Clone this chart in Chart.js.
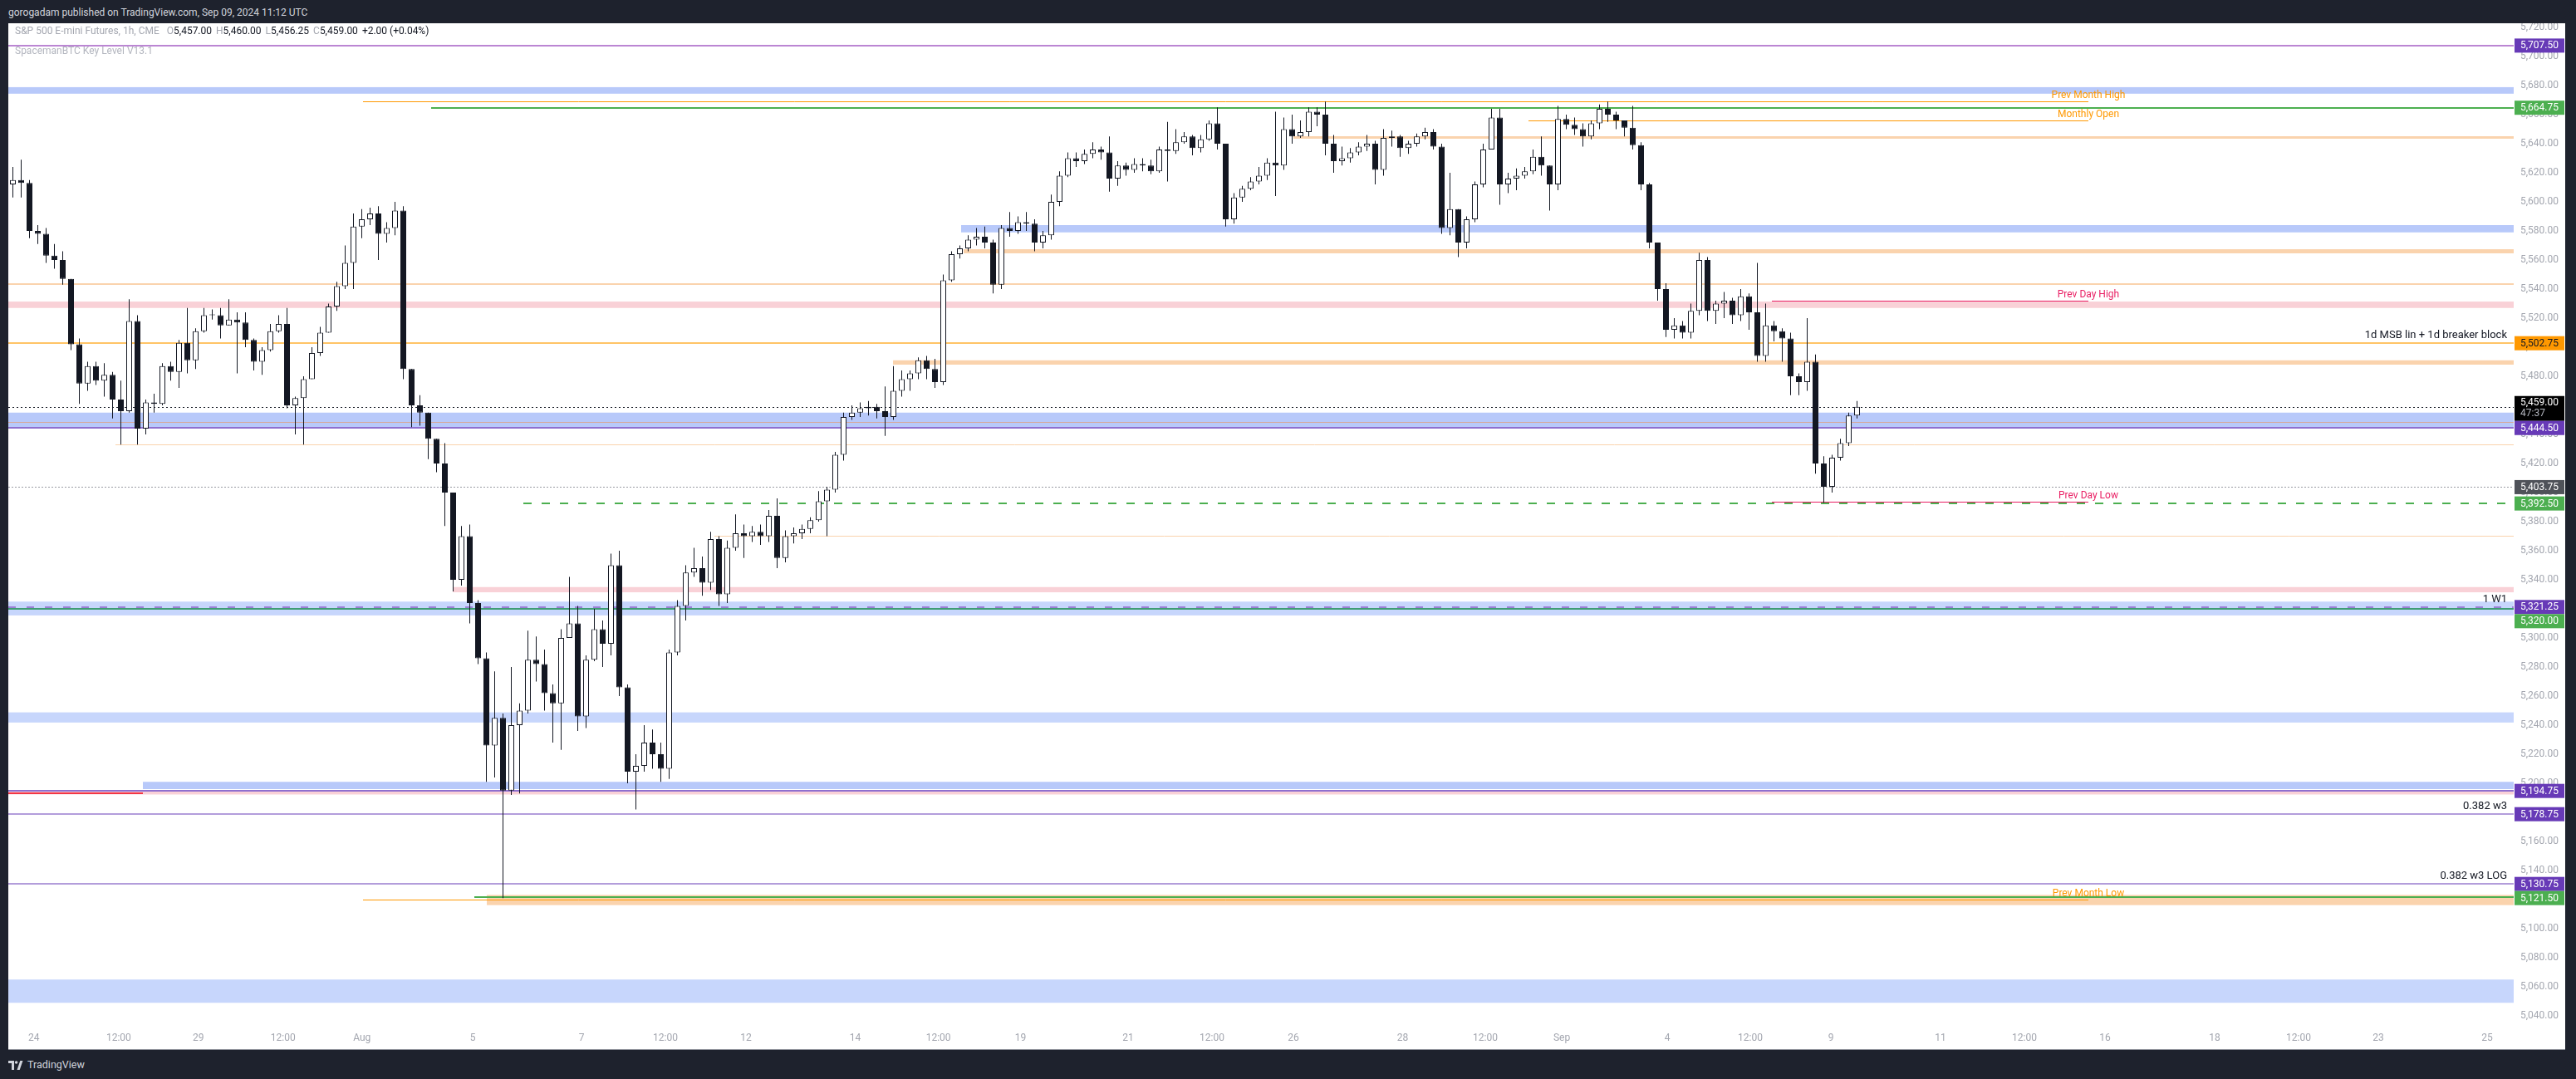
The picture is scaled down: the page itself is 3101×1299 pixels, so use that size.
<!DOCTYPE html>
<html>
<head>
<meta charset="utf-8">
<script src="https://cdn.jsdelivr.net/npm/chart.js@4.4.1/dist/chart.umd.min.js"></script>
<style>
  html, body { margin: 0; padding: 0; width: 3101px; height: 1299px; overflow: hidden; background: #1e222d; font-family: Roboto, "Liberation Sans", sans-serif; }
  #top { position: absolute; left: 10px; top: 7px; color: #d1d4dc; font-size: 12px; line-height: 16px; }
  #panel { position: absolute; left: 10px; top: 28px; width: 3078px; height: 1235px; background: #fff; border-bottom: 1px solid #8f929b; }
  #chart { position: absolute; left: 0; top: 0; }
  #legend { position: absolute; left: 8px; top: 2px; font-size: 12px; line-height: 14px; color: #131722; white-space: nowrap; }
  #legend .g { color: #a3a6af; }
  #legend .v { margin-left: 5px; }
  #legend .s2 { color: #b2b5be; margin-top: 10px; }
  #foot { position: absolute; left: 10px; top: 1274px; color: #d1d4dc; font-size: 12.5px; line-height: 16px; display: flex; align-items: center; }
  #foot svg { margin-right: 5px; }
</style>
</head>
<body>
<div id="top">gorogadam published on TradingView.com, Sep 09, 2024 11:12 UTC</div>
<div id="panel">
  <canvas id="chart" width="3078" height="1235"></canvas>
  <div id="legend">
    <div><span class="g">S&amp;P 500 E-mini Futures, 1h, CME</span><span class="v" style="margin-left:9px"><span class="g">O</span>5,457.00</span><span class="v"><span class="g">H</span>5,460.00</span><span class="v"><span class="g">L</span>5,456.25</span><span class="v"><span class="g">C</span>5,459.00</span><span class="v">+2.00 (+0.04%)</span></div>
    <div class="s2">SpacemanBTC Key Level V13.1</div>
  </div>
</div>
<div id="foot"><svg width="18" height="11" viewBox="0 0 18 11"><path d="M0 0h7v11H4V3H0z" fill="#d1d4dc"/><circle cx="9.6" cy="2" r="1.8" fill="#d1d4dc"/><path d="M10.5 11L14.3 0h3.2l-3.8 11z" fill="#d1d4dc"/></svg>TradingView</div>

<script>
const firstOpen = 5612;
const closes = [
  5615,5613,5580,5578,5563,5560,5547,5502,5475,5487,5477,5481,5464,5456,5518,5444,5462,5461,5487,5483,
  5503,5491,5511,5522,5522,5515,5519,5517,5505,5490,5498,5511,5516,5460,5465,5478,5496,5510,5528,5542,
  5558,5583,5588,5592,5578,5582,5594,5485,5460,5455,5437,5420,5400,5340,5370,5324,5286,5226,5245,5195,
  5240,5250,5285,5282,5262,5255,5300,5310,5246,5285,5306,5296,5350,5266,5208,5212,5228,5220,5210,5290,
  5322,5345,5348,5338,5368,5330,5362,5372,5370,5373,5370,5384,5355,5370,5372,5375,5381,5394,5402,5426,
  5452,5455,5458,5459,5456,5452,5470,5478,5482,5491,5485,5476,5546,5564,5568,5574,5576,5572,5543,5582,
  5580,5586,5585,5572,5577,5600,5618,5630,5628,5633,5636,5634,5616,5625,5622,5626,5625,5621,5636,5635,
  5641,5645,5637,5643,5654,5640,5588,5603,5609,5614,5618,5627,5625,5650,5645,5648,5662,5660,5640,5628,
  5630,5634,5638,5640,5622,5644,5645,5637,5640,5645,5648,5638,5582,5595,5572,5588,5612,5636,5658,5612,
  5616,5618,5621,5631,5625,5612,5657,5653,5650,5645,5654,5664,5660,5656,5651,5639,5612,5572,5540,5512,
  5515,5510,5525,5560,5525,5530,5532,5522,5535,5524,5494,5515,5511,5506,5480,5476,5490,5420,5404,5424,
  5434,5453,5459
];
const highs = [
  5624,5629,5615,5584,5582,5571,5566,5545,5506,5490,5490,5489,5483,5477,5533,5522,5464,5468,5489,5490,
  5505,5527,5513,5527,5526,5527,5533,5524,5524,5506,5500,5516,5522,5527,5466,5480,5500,5514,5530,5545,
  5570,5592,5595,5596,5597,5586,5600,5597,5483,5467,5446,5433,5434,5396,5377,5378,5326,5290,5277,5248,
  5280,5255,5305,5301,5292,5268,5306,5342,5322,5288,5320,5312,5358,5360,5268,5220,5240,5237,5228,5292,
  5326,5350,5362,5356,5373,5370,5367,5385,5378,5377,5378,5388,5396,5374,5376,5378,5383,5401,5404,5428,
  5455,5460,5462,5463,5461,5473,5487,5484,5484,5493,5494,5492,5550,5566,5570,5577,5582,5583,5574,5584,
  5593,5590,5593,5588,5580,5605,5621,5634,5634,5636,5641,5638,5645,5628,5627,5630,5630,5629,5638,5655,
  5650,5648,5646,5646,5656,5665,5640,5606,5611,5617,5624,5630,5662,5658,5660,5656,5665,5665,5669,5646,
  5638,5637,5641,5646,5642,5650,5649,5646,5642,5647,5651,5650,5640,5620,5590,5590,5614,5640,5664,5664,
  5620,5623,5624,5636,5645,5624,5666,5660,5658,5654,5656,5667,5669,5662,5656,5666,5641,5613,5572,5544,
  5520,5518,5530,5565,5562,5532,5538,5534,5540,5537,5558,5530,5518,5513,5510,5482,5520,5495,5425,5426,
  5437,5455,5463
];
const lows = [
  5603,5603,5575,5571,5558,5554,5543,5498,5461,5470,5474,5466,5451,5433,5455,5433,5440,5455,5460,5477,
  5472,5482,5485,5510,5519,5506,5515,5482,5500,5484,5481,5497,5510,5458,5440,5433,5478,5494,5510,5525,
  5540,5540,5575,5584,5560,5572,5577,5478,5445,5446,5423,5414,5377,5332,5336,5310,5282,5201,5204,5121,
  5192,5193,5248,5270,5250,5228,5223,5300,5236,5238,5284,5280,5288,5260,5200,5182,5208,5210,5201,5203,
  5288,5312,5342,5329,5333,5322,5324,5360,5355,5366,5364,5366,5348,5352,5365,5368,5372,5380,5370,5400,
  5422,5450,5452,5453,5451,5439,5450,5466,5470,5478,5478,5472,5474,5545,5561,5566,5570,5568,5537,5540,
  5576,5578,5580,5566,5568,5574,5597,5617,5624,5626,5630,5629,5607,5611,5618,5620,5621,5619,5620,5614,
  5633,5640,5632,5634,5642,5636,5583,5585,5600,5608,5612,5615,5604,5622,5640,5644,5645,5652,5632,5620,
  5625,5627,5632,5635,5612,5618,5638,5631,5633,5638,5643,5636,5578,5577,5562,5568,5586,5610,5636,5598,
  5606,5608,5616,5619,5618,5594,5608,5650,5646,5638,5643,5650,5655,5650,5645,5636,5608,5568,5532,5507,
  5506,5506,5506,5522,5518,5516,5520,5516,5518,5512,5490,5490,5504,5490,5467,5467,5470,5413,5393,5400,
  5422,5432,5451
];

// time axis: labels and where they sit, in bar units
const timeLabels = ['24','12:00','29','12:00','Aug','5','7','12:00','12','14','12:00','19','21','12:00','26',
  '28','12:00','Sep','4','12:00','9','11','12:00','16','18','12:00','23','25'];
const timeTickAt = [2.53,12.74,22.33,32.53,42.02,55.35,68.45,78.55,88.25,101.41,111.41,121.31,134.25,144.35,154.15,
  167.3,177.25,186.45,199.15,209.15,218.85,232.05,242.15,251.85,265.05,275.15,284.75,297.85];

// key level zones [low, high], bar where they start (null = left edge)
const zoneLow  = [5674.4, 5579.0, 5564.6, 5527.0, 5488.0, 5444.5, 5331.4, 5315.5, 5241.8, 5196.0, 5192.3, 5116.2, 5049.0];
const zoneHigh = [5678.9, 5584.0, 5567.4, 5531.4, 5491.0, 5455.0, 5335.0, 5325.0, 5248.8, 5201.0, 5195.0, 5123.2, 5065.0];
const zoneFrom = [null, 114.15, 114.45, null, 105.95, null, 52.95, null, null, 15.65, null, 57.05, null];
const zoneKind = ['blue','blue','peach','pink','peach','blue','pink','blueLight','blueLight','blue','pink','peach','blueLight'];

// key level lines
const lineValue = [5707.5, 5669.0, 5664.75, 5656.0, 5644.6, 5543.6, 5532.2, 5502.75, 5459.0, 5448.5, 5444.5, 5433.0,
  5403.75, 5392.5, 5393.8, 5370.3, 5321.25, 5320.0, 5194.75, 5193.2, 5178.75, 5130.75, 5121.5, 5120.0];
const lineFrom = [null, 42.15, 50.35, 182.45, 154.15, null, 211.75, null, null, null, null, 12.35,
  null, 61.45, 211.75, 84.45, null, null, null, null, null, null, 55.55, 42.15];
const lineTo = [null, 249.85, null, 249.85, null, null, 249.85, null, null, null, null, null,
  null, null, 249.85, null, null, null, null, 15.65, null, null, null, 249.85];
const lineKind = ['topPurple','orange','green','orange','peachThick','peach','crimson','gold','dotted','tan','purple','peachThin',
  'greyLine','greenDash','crimson','peachThin','purpleDash','teal','purple','red','lavender','lavender','green','orange'];

const levelNotes = ['Prev Month High', 'Monthly Open', 'Prev Day High', 'Prev Day Low', 'Prev Month Low'];
const levelNoteValue = [5669.0, 5656.0, 5532.2, 5393.8, 5120.0];
const levelNoteKind = ['orange', 'orange', 'crimson', 'crimson', 'orange'];
const levelNoteAt = 249.85;

const sideNotes = ['1d MSB lin + 1d breaker block', '1 W1', '0.382 w3', '0.382 w3 LOG'];
const sideNoteValue = [5502.75, 5321.25, 5178.75, 5130.75];

// price scale tags
const tagPrice = [5707.5, 5664.75, 5502.75, 5459.0, 5444.5, 5403.75, 5392.5, 5321.25, 5320.0, 5194.75, 5178.75, 5130.75, 5121.5];
const tagKind = ['purple','green','orange','last','purple','grey','green','purple','green','purple','purple','purple','green'];
const lastCountdown = '47:37';

const yTicks = [];
for (let v = 5040; v <= 5720; v += 20) yTicks.push(v);

const zoneStyle = { blue: '#b8c9fa', blueLight: '#c7d6fc', pink: '#f9d1d7', peach: '#fad3ad' };
const lineStyle = {
  topPurple: { c: '#bb86d3', w: 2 },
  orange: { c: '#ff9800', w: 1 },
  green: { c: '#4caf50', w: 2 },
  peachThick: { c: '#fad3ad', w: 3 },
  peach: { c: '#fad3ad', w: 2 },
  peachThin: { c: '#fad3ad', w: 1 },
  crimson: { c: '#e91e63', w: 1 },
  gold: { c: '#ffc466', w: 2 },
  dotted: { c: '#131722', w: 1, d: [2, 3] },
  greyLine: { c: '#9a9ca3', w: 1, d: [2, 2] },
  tan: { c: '#d6a89a', w: 1 },
  purple: { c: '#8f6fcf', w: 2 },
  greenDash: { c: '#4caf50', w: 2, d: [10, 12] },
  purpleDash: { c: '#9c7fd6', w: 3, d: [9, 13] },
  teal: { c: '#3f9d74', w: 2 },
  red: { c: '#f23645', w: 2 },
  lavender: { c: '#b39ddb', w: 2 }
};
const noteColor = { orange: '#ff9800', crimson: '#e91e63' };
const tagStyle = {
  purple: { bg: '#673ab7', fg: '#ffffff', h: 17 },
  green: { bg: '#4caf50', fg: '#ffffff', h: 17 },
  orange: { bg: '#ff9800', fg: '#131722', h: 17 },
  grey: { bg: '#4f5259', fg: '#ffffff', h: 17 },
  last: { bg: '#000000', fg: '#ffffff', h: 30 }
};

const opens = closes.map((c, i) => i === 0 ? firstOpen : closes[i - 1]);
const wicks = closes.map((c, i) => ({ x: i, y: [Math.min(lows[i], opens[i], c), Math.max(highs[i], opens[i], c)] }));
const bodies = closes.map((c, i) => ({ x: i, y: [Math.min(opens[i], c), Math.max(opens[i], c)] }));
const bodyFill = closes.map((c, i) => c >= opens[i] ? '#ffffff' : '#131722');

const levelsPlugin = {
  id: 'levels',
  beforeDatasetsDraw(chart) {
    const { ctx, chartArea: a, scales: { x, y } } = chart;
    ctx.save();
    ctx.beginPath();
    ctx.rect(a.left, a.top, a.right - a.left, a.bottom - a.top);
    ctx.clip();
    zoneLow.forEach((lo, i) => {
      const x0 = zoneFrom[i] === null ? a.left : x.getPixelForValue(zoneFrom[i]);
      const y0 = y.getPixelForValue(zoneHigh[i]);
      const y1 = y.getPixelForValue(lo);
      ctx.fillStyle = zoneStyle[zoneKind[i]];
      ctx.fillRect(x0, y0, a.right - x0, y1 - y0);
    });
    lineValue.forEach((v, i) => {
      const s = lineStyle[lineKind[i]];
      const x0 = lineFrom[i] === null ? a.left : x.getPixelForValue(lineFrom[i]);
      const x1 = lineTo[i] === null ? a.right : x.getPixelForValue(lineTo[i]);
      const py = Math.round(y.getPixelForValue(v)) + (s.w % 2 ? 0.5 : 0);
      ctx.strokeStyle = s.c;
      ctx.lineWidth = s.w;
      ctx.setLineDash(s.d || []);
      ctx.beginPath();
      ctx.moveTo(x0, py);
      ctx.lineTo(x1, py);
      ctx.stroke();
    });
    ctx.restore();
  },
  afterDatasetsDraw(chart) {
    const { ctx, chartArea: a, scales: { x, y } } = chart;
    ctx.save();
    ctx.textBaseline = 'bottom';
    ctx.font = '12px Roboto';
    ctx.textAlign = 'center';
    levelNotes.forEach((t, i) => {
      ctx.fillStyle = noteColor[levelNoteKind[i]];
      ctx.fillText(t, x.getPixelForValue(levelNoteAt), y.getPixelForValue(levelNoteValue[i]) - 1);
    });
    ctx.font = '13px Roboto';
    ctx.textAlign = 'right';
    ctx.fillStyle = '#131722';
    sideNotes.forEach((t, i) => {
      ctx.fillText(t, a.right - 8, y.getPixelForValue(sideNoteValue[i]) - 3);
    });
    ctx.restore();
  },
  afterDraw(chart) {
    const { ctx, chartArea: a, scales: { y } } = chart;
    const order = tagPrice.map((p, i) => i).sort((m, n) => tagPrice[n] - tagPrice[m]);
    let floor = -Infinity;
    ctx.save();
    ctx.font = '12px Roboto';
    ctx.textAlign = 'left';
    ctx.textBaseline = 'middle';
    order.forEach(i => {
      const s = tagStyle[tagKind[i]];
      const py = y.getPixelForValue(tagPrice[i]);
      const top = Math.max(py - (s.h > 20 ? 13 : 8.5), floor);
      ctx.fillStyle = s.bg;
      ctx.fillRect(a.right + 1, top, 60, s.h);
      ctx.fillStyle = s.fg;
      const txt = tagPrice[i].toLocaleString('en-US', { minimumFractionDigits: 2 });
      if (s.h > 20) {
        ctx.fillText(txt, a.right + 8, top + 8);
        ctx.fillStyle = '#b2b5be';
        ctx.fillText(lastCountdown, a.right + 8, top + 21);
      } else {
        ctx.fillText(txt, a.right + 8, top + s.h / 2 + 0.5);
      }
      floor = top + s.h;
    });
    ctx.restore();
  }
};

Chart.defaults.font.family = 'Roboto';
Chart.defaults.font.size = 12;

new Chart(document.getElementById('chart'), {
  type: 'bar',
  data: {
    datasets: [
      { label: 'wick', data: wicks, backgroundColor: '#131722', borderWidth: 0, barThickness: 1, grouped: false, inflateAmount: 0, order: 2 },
      { label: 'body', data: bodies, backgroundColor: bodyFill, borderColor: '#131722', borderWidth: 1, borderSkipped: false,
        barThickness: 7, minBarLength: 1, grouped: false, inflateAmount: 0, order: 1 }
    ]
  },
  options: {
    responsive: false,
    animation: false,
    devicePixelRatio: 1,
    layout: { padding: 0 },
    plugins: { legend: { display: false }, tooltip: { enabled: false } },
    scales: {
      x: {
        type: 'linear', offset: false, min: -0.55, max: 301.05,
        grid: { display: false, drawTicks: false }, border: { display: false },
        afterBuildTicks: s => { s.ticks = timeTickAt.map(v => ({ value: v })); },
        afterFit: s => { s.height = 26; s.paddingLeft = 0; s.paddingRight = 0; },
        ticks: { autoSkip: false, maxRotation: 0, minRotation: 0, padding: 6, color: '#a3a6af',
          callback: (v, i) => timeLabels[i] }
      },
      y: {
        position: 'right', min: 5032, max: 5722.86,
        grid: { display: false, drawTicks: false }, border: { display: false },
        afterBuildTicks: s => { s.ticks = yTicks.map(v => ({ value: v })); },
        afterFit: s => { s.width = 62; s.paddingTop = 0; s.paddingBottom = 0; },
        ticks: { padding: 8, color: '#a3a6af',
          callback: v => v.toLocaleString('en-US', { minimumFractionDigits: 2 }) }
      }
    }
  },
  plugins: [levelsPlugin]
});
</script>
</body>
</html>
